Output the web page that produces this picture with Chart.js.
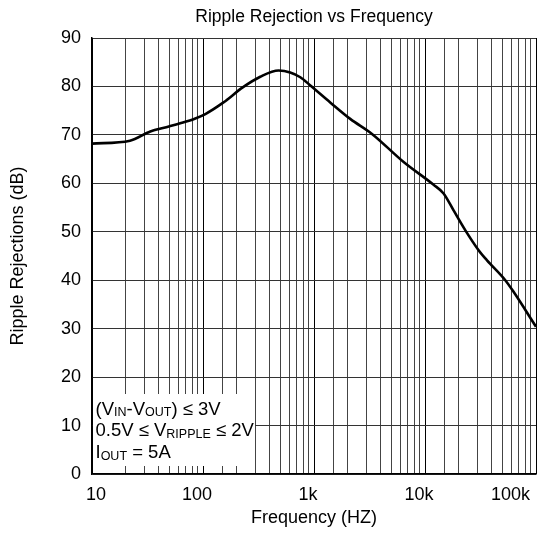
<!DOCTYPE html>
<html>
<head>
<meta charset="utf-8">
<script src="https://cdn.jsdelivr.net/npm/chart.js@4.4.1/dist/chart.umd.min.js"></script>
<style>
  html, body { margin: 0; padding: 0; background: #fff; }
</style>
</head>
<body>
<canvas id="chart-ripple" width="539" height="534"></canvas>
<script>
// Ripple rejection vs frequency
const freqHz = [10, 22, 33.5, 46.7, 62.4, 85.3, 105, 153, 228, 328, 480, 611, 753, 927,
  1400, 2120, 3330, 6420, 11950, 14700, 18100, 23100, 30400, 36200, 52900, 62800, 100000];
const rejectionDb = [68.2, 68.8, 70.7, 71.6, 72.4, 73.4, 74.3, 76.7, 79.8, 82.0, 83.3, 82.9, 81.9, 80.2,
  76.7, 73.3, 70.2, 64.4, 59.7, 57.9, 54.4, 50.3, 46.2, 44.1, 40.0, 37.6, 30.4];

const xTickValues = [10, 100, 1000, 10000, 100000];
const xTickLabels = ['10', '100', '1k', '10k', '100k'];
const yTickMin = 0;
const yTickMax = 90;
const yTickStep = 10;

const FONT = "'Liberation Sans', Arial, sans-serif";

// conditions box in the lower left corner
const conditionsBox = {
  id: 'conditionsBox',
  afterDatasetsDraw(chart) {
    const { ctx, chartArea } = chart;
    const left = chartArea.left + 1;
    const bottom = chartArea.bottom - 8;
    ctx.save();
    ctx.fillStyle = '#fff';
    ctx.fillRect(left, bottom - 72, 162, 72);
    ctx.fillStyle = '#000';
    ctx.textBaseline = 'alphabetic';

    const lines = [
      [['(V', 0], ['IN', 1], ['-V', 0], ['OUT', 1], [') \u2264 3V', 0]],
      [['0.5V \u2264 V', 0], ['RIPPLE', 1], [' \u2264 2V', 0]],
      [['I', 0], ['OUT', 1], [' = 5A', 0]],
    ];
    const baselines = [415, 436.7, 458.3].map(y => y - 474.3 + chartArea.bottom);
    lines.forEach((parts, i) => {
      let x = chartArea.left + 3.5;
      parts.forEach(([txt, sub]) => {
        ctx.font = (sub ? '12.5px ' : '18.5px ') + FONT;
        ctx.fillText(txt, x, baselines[i] + (sub ? 1.5 : 0));
        x += ctx.measureText(txt).width;
      });
    });
    ctx.restore();
  },
};

const points = freqHz.map((f, i) => ({ x: f, y: rejectionDb[i] }));

new Chart(document.getElementById('chart-ripple'), {
  type: 'line',
  data: {
    datasets: [{
      data: points,
      borderColor: '#000',
      borderWidth: 2.6,
      pointRadius: 0,
      fill: false,
      cubicInterpolationMode: 'monotone',
    }],
  },
  options: {
    responsive: false,
    animation: false,
    layout: { padding: { left: 0, right: 3, top: 0, bottom: 0 } },
    plugins: {
      legend: { display: false },
      tooltip: { enabled: false },
      title: {
        display: true,
        fullSize: false,
        text: 'Ripple Rejection vs Frequency',
        color: '#000',
        font: { family: FONT, size: 17.5, weight: 'normal' },
        padding: { top: 7, bottom: 10 },
      },
    },
    scales: {
      x: {
        type: 'logarithmic',
        min: 10,
        max: 100000,
        afterFit(scale) {
          scale.height = 60;
          scale.paddingLeft = 0;
          scale.paddingRight = 0;
        },
        ticks: {
          autoSkip: false,
          maxRotation: 0,
          align: 'inner',
          labelOffset: -6,
          padding: 10,
          color: '#000',
          font: { family: FONT, size: 18 },
          callback: (value) => {
            const idx = xTickValues.indexOf(Number(value));
            return idx >= 0 ? xTickLabels[idx] : '';
          },
        },
        grid: {
          drawTicks: false,
          lineWidth: 1,
          color: (c) => (c.tick && xTickValues.includes(c.tick.value) ? '#000' : '#444'),
        },
        border: { display: true, color: '#000', width: 1.5 },
        title: {
          display: true,
          text: 'Frequency (HZ)',
          color: '#000',
          font: { family: FONT, size: 18 },
          padding: { top: 0, bottom: 5 },
        },
      },
      y: {
        min: yTickMin,
        max: yTickMax,
        afterFit(scale) {
          scale.width = 92;
          scale.paddingTop = 0;
          scale.paddingBottom = 0;
        },
        ticks: {
          stepSize: yTickStep,
          padding: 11,
          color: '#000',
          font: { family: FONT, size: 18 },
        },
        grid: {
          drawTicks: false,
          lineWidth: 1,
          color: '#333',
        },
        border: { display: true, color: '#000', width: 1.5 },
        title: {
          display: true,
          text: 'Ripple Rejections (dB)',
          color: '#000',
          font: { family: FONT, size: 18 },
          padding: { top: 7, bottom: 0 },
        },
      },
    },
  },
  plugins: [conditionsBox],
});
</script>
</body>
</html>
